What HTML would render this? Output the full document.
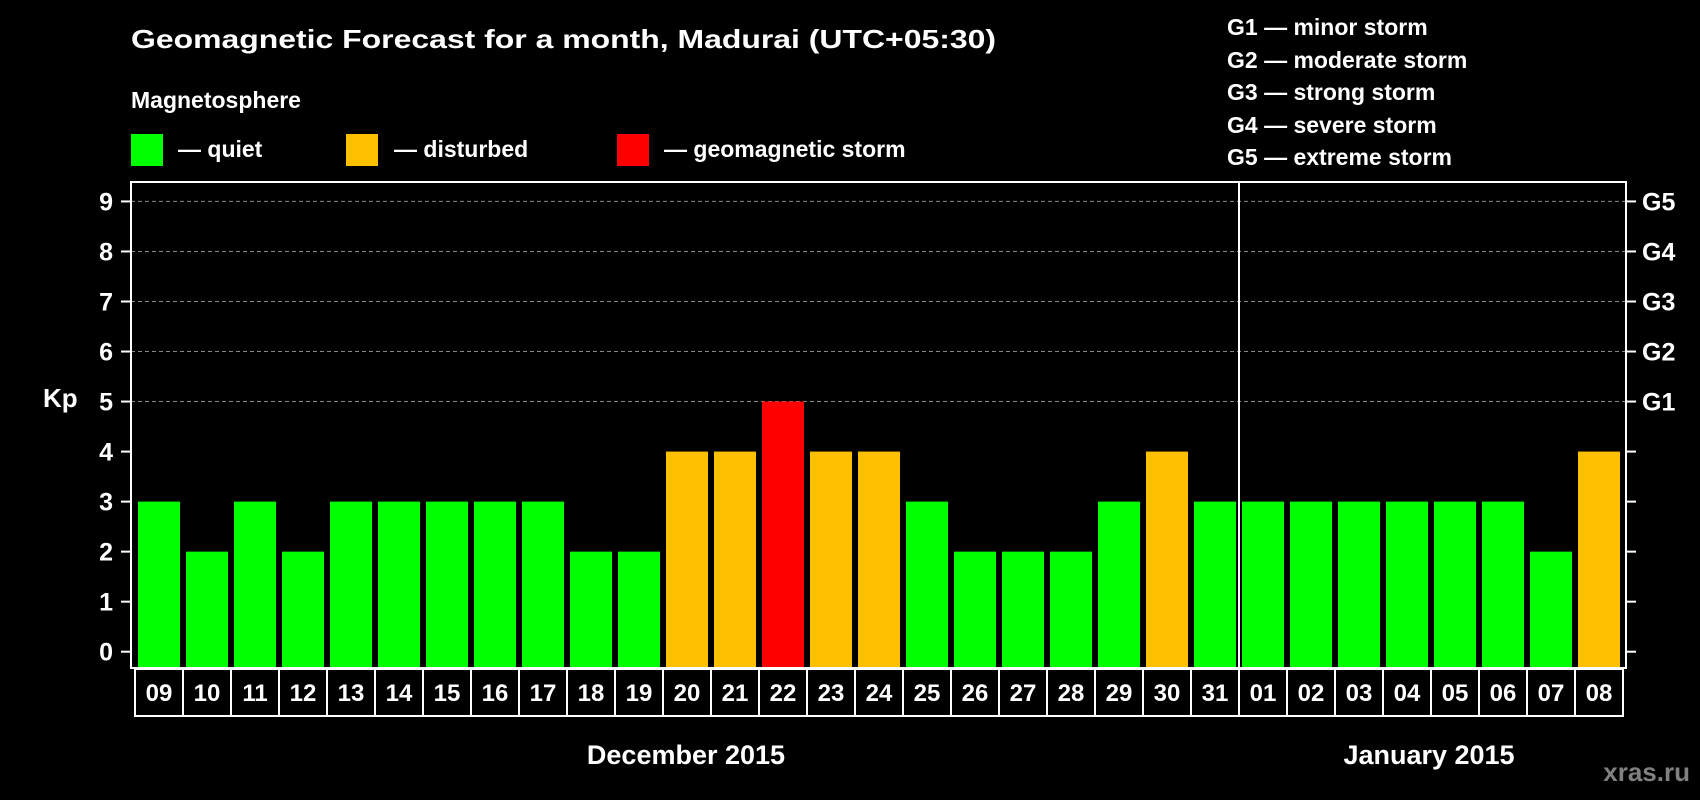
<!DOCTYPE html>
<html><head><meta charset="utf-8"><style>
html,body{margin:0;padding:0;background:#000;}
svg{display:block;font-family:"Liberation Sans",Arial,sans-serif;font-weight:bold;}
</style></head><body>
<svg id="chart" width="1700" height="800" viewBox="0 0 1700 800" xmlns="http://www.w3.org/2000/svg">
<rect width="1700" height="800" fill="#000"/>
<text x="131" y="48" fill="#fff" font-size="26" textLength="865" lengthAdjust="spacingAndGlyphs">Geomagnetic Forecast for a month, Madurai (UTC+05:30)</text>
<text x="131" y="108" fill="#fff" font-size="23">Magnetosphere</text>
<g><rect x="131" y="134" width="32" height="32" fill="#00ff00"/><text x="178" y="157" fill="#fff" font-size="23">— quiet</text></g>
<g><rect x="346" y="134" width="32" height="32" fill="#ffc000"/><text x="394" y="157" fill="#fff" font-size="23">— disturbed</text></g>
<g><rect x="617" y="134" width="32" height="32" fill="#ff0000"/><text x="664" y="157" fill="#fff" font-size="23">— geomagnetic storm</text></g>
<g fill="#fff" font-size="23">
<text x="1227" y="35">G1 — minor storm</text>
<text x="1227" y="68">G2 — moderate storm</text>
<text x="1227" y="100">G3 — strong storm</text>
<text x="1227" y="133">G4 — severe storm</text>
<text x="1227" y="165">G5 — extreme storm</text>
</g>
<text x="43" y="407" fill="#fff" font-size="26">Kp</text>
<g id="grid"></g><g id="bars"></g><g id="axes"></g><g id="xlabels"></g>
<text x="686" y="764" fill="#fff" font-size="27" text-anchor="middle">December 2015</text>
<text x="1429" y="764" fill="#fff" font-size="27" text-anchor="middle">January 2015</text>
<text x="1690" y="781" fill="#808080" font-size="26" text-anchor="end">xras.ru</text>
</svg>
<script>
const days = ["09","10","11","12","13","14","15","16","17","18","19","20","21","22","23","24","25","26","27","28","29","30","31","01","02","03","04","05","06","07","08"];
const kpValues = [3,2,3,2,3,3,3,3,3,2,2,4,4,5,4,4,3,2,2,2,3,4,3,3,3,3,3,3,3,2,4];
const yTicks = [0,1,2,3,4,5,6,7,8,9];
const gLabels = ["G1","G2","G3","G4","G5"];
const gLevels = [5,6,7,8,9];
const monthBreakIndex = 23;

const NS="http://www.w3.org/2000/svg";
const plotLeft=131,plotRight=1626,plotTop=182,plotBottom=668;
const y0=651.7,unit=50.03;
const x0=135,step=48;
function yScale(v){return y0-v*unit;}
function xScale(i){return x0+i*step;}
function mk(tag,attrs,parent){const e=document.createElementNS(NS,tag);for(const k in attrs)e.setAttribute(k,attrs[k]);parent.appendChild(e);return e;}
const grid=document.getElementById('grid'),bars=document.getElementById('bars'),axes=document.getElementById('axes'),xl=document.getElementById('xlabels');

gLevels.forEach(v=>{
  const l=mk('line',{x1:plotLeft,x2:plotRight,y1:yScale(v),y2:yScale(v),stroke:'#888','stroke-dasharray':'4,3','stroke-width':1},grid);
  
  
});
kpValues.forEach((v,i)=>{
  const c=v>=5?'#ff0000':(v>=4?'#ffc000':'#00ff00');
  const r=mk('rect',{x:xScale(i)+3,y:yScale(v),width:42,height:plotBottom-yScale(v),fill:c},bars);
  
  
});
const frame=mk('rect',{x:plotLeft,y:plotTop,width:plotRight-plotLeft,height:plotBottom-plotTop,fill:'none',stroke:'#fff','stroke-width':2},axes);


const dv=mk('line',{x1:xScale(monthBreakIndex),x2:xScale(monthBreakIndex),y1:plotTop,y2:plotBottom,stroke:'#fff','stroke-width':2},axes);


yTicks.forEach(v=>{
  const y=yScale(v);
  mk('line',{x1:plotLeft-10,x2:plotLeft,y1:y,y2:y,stroke:'#fff','stroke-width':2},axes);
  mk('line',{x1:plotRight,x2:plotRight+10,y1:y,y2:y,stroke:'#fff','stroke-width':2},axes);
  const t=mk('text',{x:113,y:y+9,fill:'#fff','font-size':25,'text-anchor':'end'},axes);
  t.textContent=v;
  
  
});
gLevels.forEach((v,i)=>{
  const t=mk('text',{x:1642,y:yScale(v)+9,fill:'#fff','font-size':25},axes);
  t.textContent=gLabels[i];
  
  
});
days.forEach((d,i)=>{
  const b=mk('rect',{x:xScale(i),y:plotBottom+1,width:step,height:47,fill:'#000',stroke:'#fff','stroke-width':2},xl);
  
  
  const t=mk('text',{x:xScale(i)+step/2,y:plotBottom+33,fill:'#fff','font-size':24,'text-anchor':'middle'},xl);
  t.textContent=d;
  
  
});
</script>
</body></html>
